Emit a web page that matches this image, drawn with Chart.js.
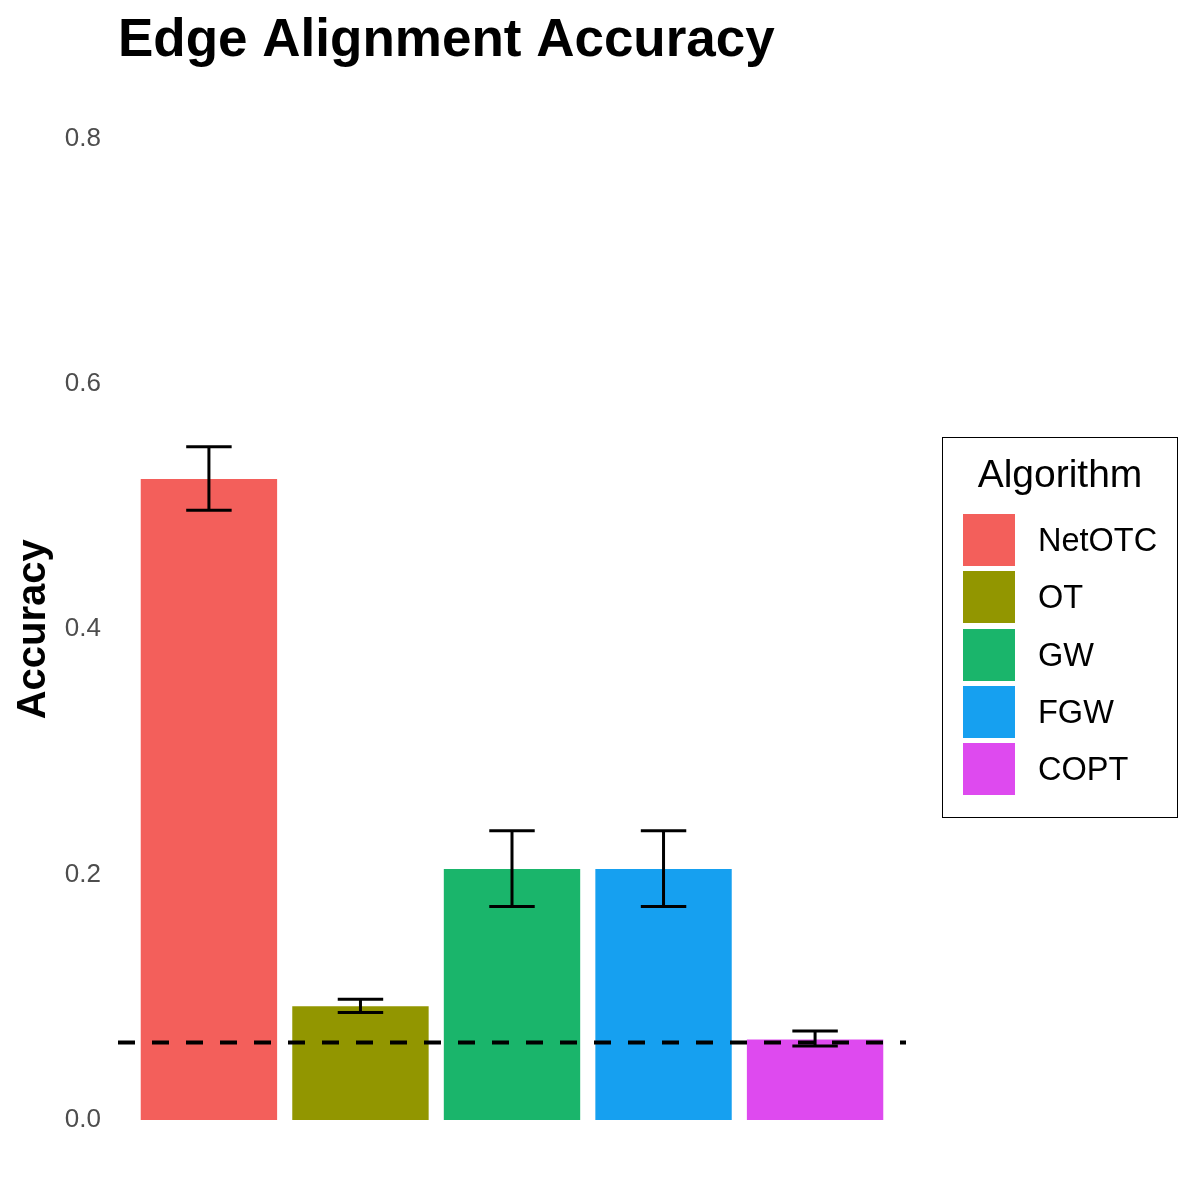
<!DOCTYPE html>
<html>
<head>
<meta charset="utf-8">
<title>Edge Alignment Accuracy</title>
<script src="https://cdn.jsdelivr.net/npm/chart.js@4.4.0/dist/chart.umd.min.js"></script>
<style>
  html, body { margin: 0; padding: 0; background: #fff; }
  #wrap { position: relative; width: 1196px; height: 1196px; font-family: "Liberation Sans", Arial, sans-serif; }
  #legend { position: absolute; left: 942px; top: 437px; width: 236px; height: 381px; border: 1.6px solid #000; box-sizing: border-box; }
  #legend .ttl { position: absolute; left: 0; right: 0; top: 16px; text-align: center; font-size: 39px; line-height: 39px; color: #000; }
  #legend .row { position: absolute; left: 20px; height: 52px; display: flex; align-items: center; }
  #legend .sw { width: 52px; height: 52px; }
  #legend .lbl { margin-left: 23px; font-size: 32.5px; line-height: 52px; color: #000; }
</style>
</head>
<body>
<div id="wrap">
  <canvas id="chart" width="1196" height="1196"></canvas>
  <div id="legend"><div class="ttl">Algorithm</div></div>
</div>
<script>
// --- data ---
const algorithms = ['NetOTC', 'OT', 'GW', 'FGW', 'COPT'];
const accuracy = [0.5225, 0.0927, 0.2046, 0.2046, 0.0656];
const errLow = [0.497, 0.0876, 0.174, 0.174, 0.0602];
const errHigh = [0.5488, 0.0984, 0.2358, 0.2358, 0.0726];
const baselineAcc = 0.0632;
const yTicks = [0, 0.2, 0.4, 0.6, 0.8];

const barColors = ['#F35F5B', '#929600', '#1AB56B', '#16A0F0', '#DE4AEF'];
const FONT = '"Liberation Sans", Arial, sans-serif';
const capHalf = 0.15;

// error bars drawn on top of the bars, through the chart's scales
const errorBarPlugin = {
    id: 'errorBars',
    afterDatasetsDraw(chart) {
        const { ctx, scales: { x, y } } = chart;
        ctx.save();
        ctx.strokeStyle = '#000';
        ctx.lineWidth = 3;
        algorithms.forEach((name, i) => {
            const cx = x.getPixelForValue(i + 1);
            const l = x.getPixelForValue(i + 1 - capHalf);
            const r = x.getPixelForValue(i + 1 + capHalf);
            const top = y.getPixelForValue(errHigh[i]);
            const bot = y.getPixelForValue(errLow[i]);
            ctx.beginPath();
            ctx.moveTo(l, top); ctx.lineTo(r, top);
            ctx.moveTo(cx, top); ctx.lineTo(cx, bot);
            ctx.moveTo(l, bot); ctx.lineTo(r, bot);
            ctx.stroke();
        });
        ctx.restore();
    }
};

new Chart(document.getElementById('chart'), {
    type: 'bar',
    data: {
        datasets: [
            {
                type: 'line',
                data: [{ x: 0.4, y: baselineAcc }, { x: 5.6, y: baselineAcc }],
                borderColor: '#000',
                borderWidth: 4,
                borderDash: [17, 17],
                pointRadius: 0,
                order: 1
            },
            {
                data: algorithms.map((a, i) => ({ x: i + 1, y: accuracy[i] })),
                backgroundColor: barColors,
                borderWidth: 0,
                barPercentage: 0.9,
                categoryPercentage: 1,
                order: 2
            }
        ]
    },
    options: {
        responsive: false,
        animation: false,
        layout: { autoPadding: false, padding: { left: 4, right: 290, top: 0, bottom: 27 } },
        scales: {
            x: {
                type: 'linear', min: 0.4, max: 5.6, display: false, offset: false,
                // one tick per bar so the bar width is one slot
                afterBuildTicks: s => { s.ticks = algorithms.map((a, i) => ({ value: i + 1 })); }
            },
            y: {
                type: 'linear',
                min: -0.04,
                max: 0.84,
                afterBuildTicks: s => { s.ticks = yTicks.map(v => ({ value: v })); },
                afterFit: s => { s.width = 114; s.paddingTop = 0; s.paddingBottom = 0; },
                grid: { display: false, drawTicks: false },
                border: { display: false },
                ticks: {
                    color: '#4D4D4D',
                    padding: 17,
                    font: { family: FONT, size: 26 },
                    callback: v => v.toFixed(1)
                },
                title: {
                    display: true,
                    text: 'Accuracy',
                    color: '#000',
                    font: { family: FONT, size: 40, weight: 'bold' },
                    padding: { top: 6, bottom: 7 }
                }
            }
        },
        plugins: {
            legend: { display: false },
            tooltip: { enabled: false },
            title: {
                display: true,
                text: 'Edge Alignment Accuracy',
                align: 'start',
                fullSize: false,
                color: '#000',
                font: { family: FONT, size: 53, weight: 'bold' },
                padding: { top: 10, bottom: 16 }
            }
        }
    },
    plugins: [errorBarPlugin]
});

// legend box built from the same arrays
const legendEl = document.getElementById('legend');
algorithms.forEach((name, i) => {
    const row = document.createElement('div');
    row.className = 'row';
    row.style.top = (75.7 + i * 57.4) + 'px';
    row.innerHTML = `<div class="sw" style="background:${barColors[i]}"></div><div class="lbl">${name}</div>`;
    legendEl.appendChild(row);
});
</script>
</body>
</html>
